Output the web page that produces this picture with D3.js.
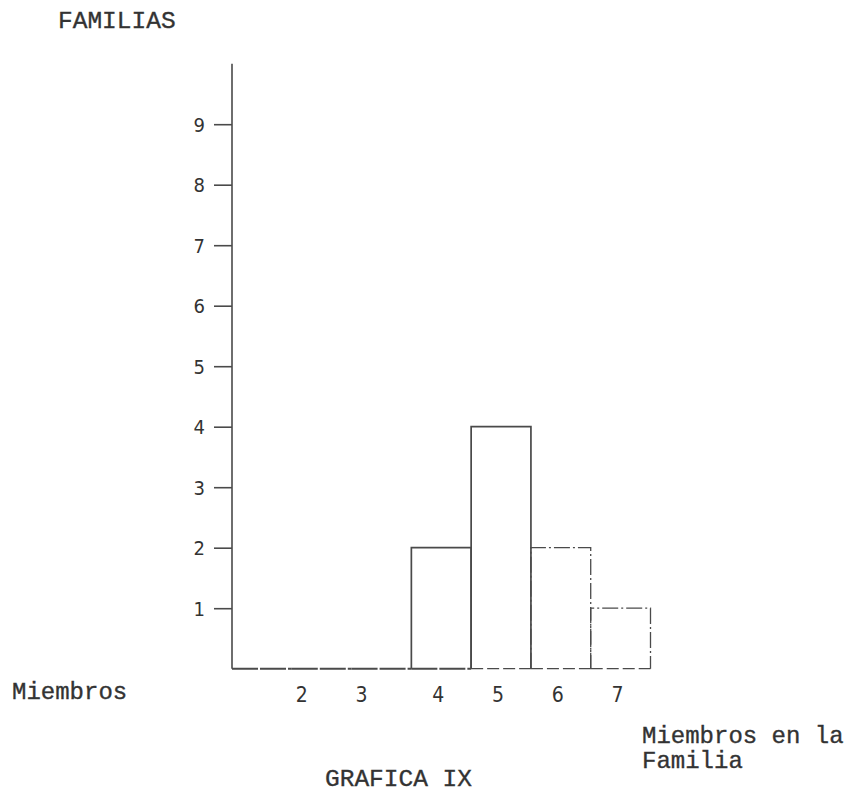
<!DOCTYPE html>
<html><head><meta charset="utf-8">
<script src="https://cdn.jsdelivr.net/npm/d3@7"></script>
<style>body{margin:0;background:#fff}</style>
</head><body>
<svg id="c" width="850" height="792"></svg>
<script>
const categories = [1, 2, 3, 4, 5, 6, 7];
const familias = [0, 0, 0, 2, 4, 2, 1];
const categoryLabels = ["", "2", "3", "4", "5", "6", "7"];
const yTicks = [1, 2, 3, 4, 5, 6, 7, 8, 9];
const dashedCats = [5, 6, 7];

const svg = d3.select("#c");
const ink = "#4a4a4a";
const x = d3.scaleLinear().domain([0.5, 7.5]).range([232, 650.5]);
const y = d3.scaleLinear().domain([0, 10]).range([668.7, 63.7]);
const numFont = "DejaVu Sans Condensed, DejaVu Sans, sans-serif";
const mono = "Liberation Mono, Courier New, monospace";

// y axis
const yAxis = d3.axisLeft(y).tickValues(yTicks).tickSize(18).tickPadding(9).tickFormat(d3.format("d"));
const ga = svg.append("g").attr("transform", `translate(${x(0.5)},0)`).call(yAxis);
ga.select(".domain").remove();
ga.selectAll(".tick line").attr("stroke", ink).attr("stroke-width", 1.6);
ga.selectAll(".tick text").attr("fill", "#333").attr("font-family", numFont).attr("font-size", 20).attr("dy", "0.36em");
svg.append("line").attr("x1", x(0.5)).attr("x2", x(0.5)).attr("y1", y(10)).attr("y2", y(0))
  .attr("stroke", ink).attr("stroke-width", 1.6);

// baseline
categories.forEach(c => {
  svg.append("line").attr("x1", x(c - 0.5)).attr("x2", x(c + 0.5)).attr("y1", y(0)).attr("y2", y(0))
    .attr("stroke", ink).attr("stroke-width", dashedCats.includes(c) ? 1.3 : 2)
    .attr("stroke-dasharray", dashedCats.includes(c) ? "12,4" : "26,2");
});

// bars (histogram outlines)
const bars = categories.map((c, i) => ({c, v: familias[i]})).filter(d => d.v > 0);
svg.selectAll("path.bar").data(bars).enter().append("path").attr("class", "bar")
  .attr("d", d => `M${x(d.c - 0.5)},${y(0)}V${y(d.v)}H${x(d.c + 0.5)}V${y(0)}`)
  .attr("fill", "none").attr("stroke", ink)
  .attr("stroke-width", d => d.c >= 6 ? 1.3 : 1.7)
  .attr("stroke-dasharray", d => d.c >= 6 ? "16,3,2,3" : null);

// category labels
svg.selectAll("text.cat").data(categories).enter().append("text").attr("class", "cat")
  .attr("x", d => x(d) - (d <= 3 ? 20 : 3)).attr("y", 702)
  .attr("text-anchor", "middle").attr("fill", "#333")
  .attr("font-family", numFont).attr("font-size", 21)
  .text((d, i) => categoryLabels[i]);

const txt = (t, px, py, fs) => svg.append("text").attr("x", px).attr("y", py)
  .attr("font-family", mono).attr("font-size", fs).attr("fill", "#333")
  .attr("stroke", "#333").attr("stroke-width", 0.35).text(t);
txt("FAMILIAS", 58, 28, 24.5);
txt("Miembros", 12, 699, 24);
txt("Miembros en la", 642, 743, 24);
txt("Familia", 642, 768, 24);
txt("GRAFICA IX", 325, 786, 24.5);
</script>
</body></html>
